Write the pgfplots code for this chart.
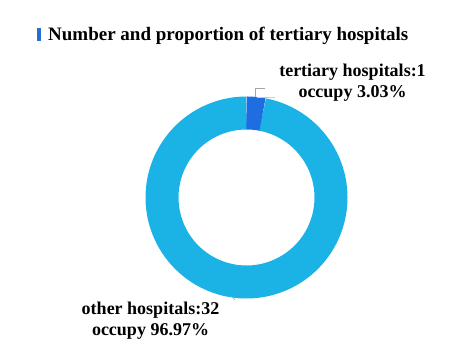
\documentclass[border=0pt]{standalone}
\usepackage{pgfplots}
\pgfplotsset{compat=1.18}
\usepackage{fontspec}
\setmainfont{Liberation Serif}
\definecolor{lightb}{RGB}{27,178,230}
\definecolor{darkb}{RGB}{30,110,225}
\definecolor{barb}{RGB}{40,110,210}
% data: number of hospitals
\def\tertiary{1}
\def\other{32}
\begin{document}
\begin{tikzpicture}
\pgfmathsetmacro{\total}{\tertiary+\other}
\pgfmathsetmacro{\angT}{360*\tertiary/\total}
\pgfmathsetmacro{\endT}{90-\angT}
\pgfmathsetmacro{\endO}{\endT-360*\other/\total}
\begin{axis}[
  scale only axis, width=471pt, height=347pt,
  xmin=0, xmax=471, ymin=0, ymax=347,
  hide axis, clip=false,
]
\addplot[lightb, line width=33pt, domain=\endT:\endO, samples=120, line cap=butt]
  ({246.5+84.5*cos(x)},{149.5+84.5*sin(x)});
\addplot[darkb, line width=33pt, domain=90:\endT, samples=20, line cap=butt]
  ({246.5+84.5*cos(x)},{149.5+84.5*sin(x)});
% leader lines
\draw[gray!70, line width=0.6pt] (axis cs:255,250) -- (axis cs:255,259) -- (axis cs:265,259);
\draw[gray!40, line width=0.6pt] (axis cs:257,250) -- (axis cs:275,250);
\draw[gray!70, line width=0.6pt] (axis cs:231,51) -- (axis cs:235,47);
% title
\fill[barb] (axis cs:37,306) rectangle (axis cs:41,319);
\node[anchor=base west, inner sep=0pt, font=\fontsize{19}{22}\selectfont\bfseries] at (axis cs:48,306) {Number and proportion of tertiary hospitals};
% labels
\node[anchor=base, inner sep=0pt, font=\fontsize{18}{21}\selectfont\bfseries] at (axis cs:352.5,270) {tertiary hospitals:1};
\node[anchor=base, inner sep=0pt, font=\fontsize{18}{21}\selectfont\bfseries] at (axis cs:352.5,249) {occupy 3.03\%};
\node[anchor=base, inner sep=0pt, font=\fontsize{18}{21}\selectfont\bfseries] at (axis cs:150.5,32) {other hospitals:32};
\node[anchor=base, inner sep=0pt, font=\fontsize{18}{21}\selectfont\bfseries] at (axis cs:150.5,11) {occupy 96.97\%};
\end{axis}
\path (0,0) rectangle (471pt,347pt);
\end{tikzpicture}
\end{document}
